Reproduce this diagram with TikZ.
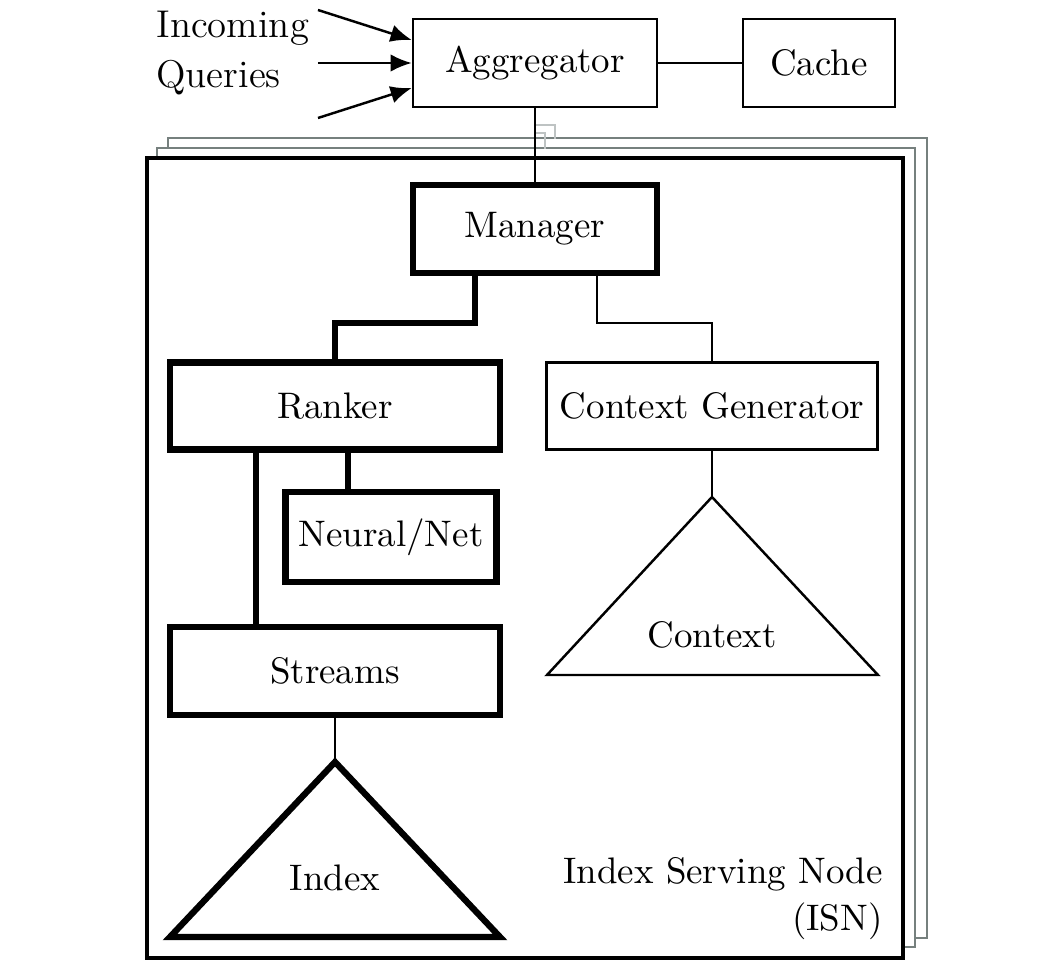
\documentclass[tikz,border=0pt]{standalone}
\usepackage{tikz}
\usetikzlibrary{arrows.meta, positioning}
\definecolor{framegray}{RGB}{118, 128, 126}
\definecolor{linkgray}{RGB}{190, 195, 195}

\tikzset{
  labelfont/.style={font=\fontsize{10.5}{13.4}\selectfont},
  thinbox/.style={draw, line width=0.7pt, labelfont, inner sep=0pt},
  thickbox/.style={draw, line width=1.8pt, labelfont, inner sep=0pt},
  thinline/.style={line width=0.7pt},
  thickline/.style={line width=1.8pt},
  queryarrow/.style={line width=0.7pt, -{Latex[length=6pt, width=5pt]}},
  isnframe/.style={draw=framegray, fill=white, line width=0.8pt},
}

\begin{document}
\begin{tikzpicture}[x=0.01cm, y=-0.01cm]
  \useasboundingbox (0,0) rectangle (1038,970);

  % Stacked index serving nodes
  \draw[isnframe] (168,138) rectangle (927,938);
  \draw[isnframe] (157,148) rectangle (915,947);
  \draw[draw=black, fill=white, line width=1.1pt] (147,158) rectangle (903,958);

  % Top level
  \node[thinbox, minimum width=2.44cm, minimum height=0.88cm] (agg) at (535,63) {Aggregator};
  \node[thinbox, minimum width=1.52cm, minimum height=0.88cm] (cache) at (819,63) {Cache};
  \node[font=\fontsize{11}{14}\selectfont, align=left, anchor=west] (queries) at (144,53) {Incoming\\Queries};

  \coordinate (q1) at (318,10);
  \coordinate (q2) at (318,63);
  \coordinate (q3) at (318,118);
  \draw[queryarrow] (q1) -- ([yshift=0.23cm]agg.west);
  \draw[queryarrow] (q2) -- (agg.west);
  \draw[queryarrow] (q3) -- ([yshift=-0.25cm]agg.west);
  \draw[thinline] (agg) -- (cache);

  % Inside the ISN
  \node[thickbox, minimum width=2.44cm, minimum height=0.88cm] (mgr) at (535,229) {Manager};
  \node[thickbox, minimum width=3.30cm, minimum height=0.87cm] (ranker) at (335,406) {Ranker};
  \node[thinbox, minimum width=3.31cm, minimum height=0.87cm] (ctxgen) at (712,406) {Context Generator};
  \node[thickbox, minimum width=2.11cm, minimum height=0.90cm] (neural) at (391,537) {Neural/Net};
  \node[thickbox, minimum width=3.30cm, minimum height=0.88cm] (streams) at (335,671) {Streams};

  % Index and context triangles
  \coordinate (idxtop) at (335,762);
  \draw[thickline, line join=miter] (idxtop) -- (500,937) -- (170,937) -- cycle;
  \node[labelfont] (index) at (335,878) {Index};
  \coordinate (ctxtop) at (712,497);
  \draw[thinline] (ctxtop) -- (878,675) -- (547,675) -- cycle;
  \node[labelfont] (context) at (712,635) {Context};

  \node[labelfont, align=right, anchor=south east] (isn) at (895,952) {Index Serving Node\\(ISN)};

  % Connectors
  \draw[linkgray, line width=0.7pt] ([yshift=-0.17cm]agg.south) -| ++(20,14);
  \draw[linkgray, line width=0.7pt] ([yshift=-0.25cm]agg.south) -| ++(10,16);
  \draw[thinline] (agg) -- (mgr);
  \draw[thickline] ([xshift=-0.6cm]mgr.south) -- ++(0,47) -| (ranker.north);
  \draw[thinline] ([xshift=0.62cm]mgr.south) -- ++(0,47) -| (ctxgen.north);
  \draw[thickline] ([xshift=-0.43cm]neural.north) -- ([xshift=-0.43cm]neural.north |- ranker.south);
  \draw[thickline] ([xshift=-0.79cm]ranker.south) -- ([xshift=-0.79cm]ranker.south |- streams.north);
  \draw[thinline] (streams) -- (idxtop);
  \draw[thinline] (ctxgen) -- (ctxtop);
\end{tikzpicture}
\end{document}
